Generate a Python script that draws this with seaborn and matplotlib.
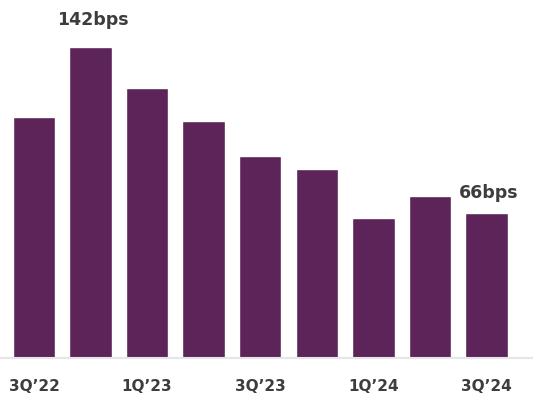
import matplotlib
matplotlib.use("Agg")
import matplotlib.pyplot as plt
import seaborn as sns
import pandas as pd

# Quarterly spread, in basis points
quarters = ["3Q’22", "4Q’22", "1Q’23", "2Q’23", "3Q’23", "4Q’23", "1Q’24", "2Q’24", "3Q’24"]
spread_bps = [110, 142, 123, 108, 92, 86, 64, 74, 66]
shown_ticks = ["3Q’22", "1Q’23", "3Q’23", "1Q’24", "3Q’24"]
labelled = {"4Q’22": "142bps", "3Q’24": "66bps"}

sns.set_style("white")
plt.rcParams["font.family"] = ["DejaVu Sans"]

df = pd.DataFrame({"quarter": quarters, "bps": spread_bps})

fig = plt.figure(figsize=(5.33, 3.94), dpi=100)
ax = fig.add_axes([0, 36 / 394, 1, 1 - 36 / 394])

sns.barplot(data=df, x="quarter", y="bps", color="#5C2458", saturation=1,
            width=0.75, ax=ax)

ax.set_xlim(-0.60, 8.82)
ax.set_ylim(0, 163.3)

for s in ["top", "right", "left"]:
    ax.spines[s].set_visible(False)
ax.spines["bottom"].set_color("#e6e6e6")
ax.spines["bottom"].set_linewidth(1.5)

ax.set_yticks([])
ax.set_xlabel("")
ax.set_ylabel("")
ax.set_xticks(range(len(quarters)))
ax.set_xticklabels([q if q in shown_ticks else "" for q in quarters],
                   fontsize=11, fontweight="bold", color="#3d3d3d")
ax.tick_params(axis="x", length=0, pad=15)

offsets = {"4Q’22": 13, "3Q’24": 8}
for i, (q, v) in enumerate(zip(quarters, spread_bps)):
    if q in labelled:
        ax.annotate(labelled[q], (i, v), xytext=(1.5, offsets[q]),
                    textcoords="offset points", ha="center", va="bottom",
                    fontsize=12.5, fontweight="bold", color="#3d3d3d",
                    annotation_clip=False)

fig.savefig("out.png", dpi=100)
